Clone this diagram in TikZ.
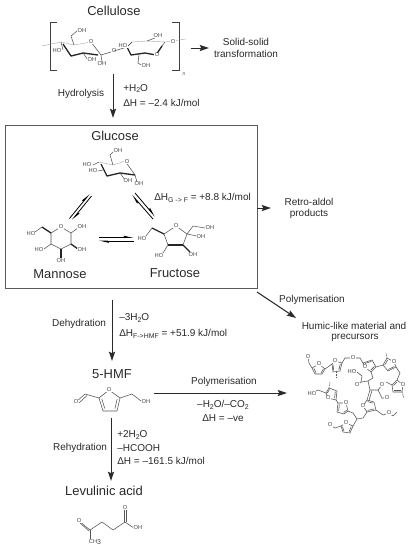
\documentclass[tikz,border=0pt]{standalone}
\usepackage{fontspec}
\setmainfont{Liberation Sans}
\usetikzlibrary{arrows.meta,calc}
\newcounter{atomc}
\newcommand{\lowr}[1]{\raisebox{-0.35ex}{\fontsize{5.2}{6}\selectfont #1}}
\newcommand{\atm}[2]{\stepcounter{atomc}\node[atomlbl] (atm\theatomc) at (#1) {#2};}
\newcommand{\furan}[5]{%
  \draw[bond] (#1) -- (#2) -- (#3) -- (#4) -- (#5) -- cycle;
  \coordinate (fc) at ($(#1)!0.55!($(#3)!0.5!(#4)$)$);
  \draw[bond] ($(#2)!0.27!(fc)$) -- ($(#3)!0.27!(fc)$);
  \draw[bond] ($(#4)!0.27!(fc)$) -- ($(#5)!0.27!(fc)$);
}
\definecolor{bondgray}{HTML}{555555}
\definecolor{inkgray}{HTML}{2A2A2A}
\tikzset{
  arr/.style={line width=0.75pt,draw=inkgray,-{Stealth[length=7pt,width=4.6pt,inset=1.2pt]}},
  harp/.style={line width=0.6pt,-{Stealth[harpoon,length=6pt,width=2.6pt,inset=0.6pt]}},
  lbl/.style={font=\fontsize{7.5}{9}\selectfont,inner sep=0pt,text=inkgray},
  lleft/.style={lbl,anchor=west},
  ttl/.style={font=\fontsize{9.7}{11}\selectfont,inner sep=0pt,text=inkgray},
  atomlbl/.style={font=\fontsize{4.3}{5}\selectfont,inner sep=0.25pt,fill=white,text=bondgray!80!black},
  bond/.style={line width=0.42pt,draw=bondgray,line join=round},
  lbond/.style={line width=0.3pt,draw=gray!70},
  hbond/.style={line width=1pt,draw=black!85,line join=round},
  bracket/.style={line width=0.6pt,draw=black!75},
  framebox/.style={draw=black!65,line width=0.7pt,minimum width=252pt*0.75,minimum height=163pt*0.75,inner sep=0pt}
}
\begin{document}
\begin{tikzpicture}[x=0.75pt,y=-0.75pt]
\useasboundingbox (0,0) rectangle (413,550);
\fill[white] (0,0) rectangle (413,550);

% ---------- titles
\node[ttl] (tcell) at (114,11) {Cellulose};
\node[ttl] (tgluc) at (115,136) {Glucose};
\node[ttl] (tmann) at (60,274) {Mannose};
\node[ttl] (tfruc) at (175,273) {Fructose};
\node[ttl] (thmf) at (112,374) {5-HMF};
\node[ttl] (tlev) at (104,491) {Levulinic acid};

% ---------- frame
\node[framebox] (frame) at (131,206.5) {};

% ---------- connector ends
\coordinate (cR) at (191,48); \coordinate (sol) at (209,48);
\coordinate (hT) at (113,74); \coordinate (hB) at (113,118);
\coordinate (rA) at (257,208); \coordinate (rB) at (271,208);
\coordinate (pA) at (257,292); \coordinate (pB) at (296,318);
\coordinate (dT) at (112,300); \coordinate (dB) at (112,361);
\coordinate (mT) at (111,418); \coordinate (mB) at (111,481);
\coordinate (hA) at (154,393); \coordinate (hC) at (287,393);
\draw[arr] (cR) -- (sol);
\draw[arr] (hT) -- (hB);
\draw[arr] (rA) -- (rB);
\draw[arr] (pA) -- (pB);
\draw[arr] (dT) -- (dB);
\draw[arr] (mT) -- (mB);
\draw[arr] (hA) -- (hC);

% ---------- equilibrium arrows
\coordinate (e1a) at (69.5,218.5); \coordinate (e1b) at (89.5,194);
\coordinate (e2a) at (91.5,196); \coordinate (e2b) at (72,220);
\coordinate (e3a) at (153,219); \coordinate (e3b) at (132,195);
\coordinate (e4a) at (135,193); \coordinate (e4b) at (155,216.5);
\coordinate (e5a) at (99,237.5); \coordinate (e5b) at (133.5,237.5);
\coordinate (e6a) at (133.5,241); \coordinate (e6b) at (99,241);
\draw[harp] (e1a) -- (e1b);
\draw[harp] (e2a) -- (e2b);
\draw[harp] (e3a) -- (e3b);
\draw[harp] (e4a) -- (e4b);
\draw[harp] (e5a) -- (e5b);
\draw[harp] (e6a) -- (e6b);

% ---------- labels
\node[lbl] (lsol1) at (246,42) {Solid-solid};
\node[lbl] (lsol2) at (246,53.5) {transformation};
\node[lbl] (lhyd) at (81,93.5) {Hydrolysis};
\node[lleft] (lw1) at (123,88.5) {+H\lowr{2}O};
\node[lleft] (lw2) at (123,103) {ΔH = –2.4 kJ/mol};
\node[lleft] (lgf) at (154,198) {ΔH\lowr{G -> F} = +8.8 kJ/mol};
\node[lbl] (lret1) at (309,202) {Retro-aldol};
\node[lbl] (lret2) at (309,214) {products};
\node[lbl] (lpol1) at (312,300) {Polymerisation};
\node[lbl] (lhum1) at (354,326) {Humic-like material and};
\node[lbl] (lhum2) at (355,338) {precursors};
\node[lbl] (ldeh) at (79,324) {Dehydration};
\node[lleft] (l3w) at (119,318) {–3H\lowr{2}O};
\node[lleft] (l3h) at (119,334) {ΔH\lowr{F->HMF} = +51.9 kJ/mol};
\node[lbl] (lpol2) at (224,382) {Polymerisation};
\node[lbl] (lco) at (223,405) {–H\lowr{2}O/–CO\lowr{2}};
\node[lbl] (lve) at (223,418) {ΔH = –ve};
\node[lbl] (lreh) at (80,448) {Rehydration};
\node[lleft] (lr1) at (117,435) {+2H\lowr{2}O};
\node[lleft] (lr2) at (117,448) {–HCOOH};
\node[lleft] (lr3) at (117,461) {ΔH = –161.5 kJ/mol};

% ---------- cellulose
\draw[bracket] (57,22) -- (50,22) -- (50,70) -- (57,70);
\draw[bracket] (172,22) -- (179,22) -- (179,70) -- (172,70);
\node[font=\fontsize{3.8}{4}\selectfont\itshape,inner sep=0pt,text=bondgray] (nn) at (184,74) {n};
\draw[lbond] (42,46) -- (61,42) -- (74,45) -- (91,42);
\draw[bond] (74,45) -- (71,36) -- (77,31);
\draw[hbond] (63,44) -- (71,56) -- (83,53) -- (98,55);
\draw[bond] (91,42) -- (101,55) -- (114,51);
\draw[bond] (61,42) -- (63,50);
\draw[bond] (83,53) -- (88,60); \draw[bond] (101,55) -- (102,62);
\atm{82,31}{OH}\atm{91,42}{O}\atm{57,51}{HO}\atm{92,60}{OH}\atm{102,64}{OH}\atm{114,51}{O}
\draw[lbond] (132,42) -- (147,41) -- (165,42) -- (172,41) -- (186,39);
\draw[bond] (114,51) -- (127,47) -- (132,42);
\draw[hbond] (127,47) -- (131,55) -- (145,53) -- (156,55);
\draw[hbond] (156,55) -- (162,46);
\draw[bond] (162,46) -- (165,42);
\draw[bond] (147,41) -- (155,38); \draw[bond] (132,42) -- (128,46);
\draw[bond] (139,54) -- (138,63) -- (143,66);
\atm{158,36}{OH}\atm{123,46}{HO}\atm{157,55}{O}\atm{146,66}{OH}\atm{173,42}{O}

% ---------- glucose
\draw[lbond] (99,162) -- (113,165) -- (125,161);
\draw[bond] (125,161) -- (135,175);
\draw[hbond] (101,164) -- (107,176) -- (120,173) -- (135,175);
\draw[bond] (113,165) -- (110,155) -- (114,151);
\draw[bond] (99,162) -- (93,165); \draw[bond] (103,170) -- (98,171);
\draw[bond] (120,173) -- (125,180); \draw[bond] (135,175) -- (137,182);
\atm{118,151}{OH}\atm{127,162}{O}\atm{87,165}{HO}\atm{93,171}{HO}\atm{128,181}{OH}\atm{139,184}{OH}

% ---------- mannose
\draw[bond] (51,233) -- (61,227) -- (71,233) -- (71,244) -- (61,249) -- (51,244) -- cycle;
\draw[bond] (42,227) -- (35,232);
\draw[bond] (71,233) -- (78,228);
\draw[bond] (51,244) -- (44,249);
\draw[hbond] (71,244) -- (78,249);
\draw[hbond] (61,249) -- (61,258);
\draw[hbond] (51,233) -- (42,227);
\atm{61,227}{O}\atm{31,234}{HO}\atm{82,227}{OH}\atm{82,250}{OH}\atm{61,261}{OH}\atm{39,250}{HO}

% ---------- fructose
\draw[bond] (176,226) -- (187,234) -- (183,245) -- (168,245) -- (164,234) -- cycle;
\draw[hbond] (168,245) -- (183,245);
\draw[hbond] (164,234) -- (152,228);
\draw[bond] (152,228) -- (146,236);
\draw[bond] (187,234) -- (193,226) -- (205,228);
\draw[bond] (187,234) -- (197,236);
\draw[bond] (168,245) -- (163,253);
\draw[hbond] (183,245) -- (190,252);
\atm{176,226}{O}\atm{142,239}{HO}\atm{210,228}{OH}\atm{201,237}{OH}\atm{159,256}{HO}\atm{193,255}{OH}

% ---------- 5-HMF
\furan{109,390}{120,398}{117,411}{103,411}{99,398}
\draw[bond] (99,398) -- (85,394);
\draw[bond] (85,394) -- (76,402);
\draw[bond] (87,395.5) -- (79,403);
\draw[bond] (120,398) -- (132,394) -- (141,401);
\atm{76,402}{O}\atm{109,390}{O}\atm{146,402}{OH}

% ---------- levulinic acid
\draw[bond] (79,521) -- (90,530); \draw[bond] (80,523) -- (89,531);
\draw[bond] (90,530) -- (90,539);
\draw[bond] (90,530) -- (102,522) -- (113,530) -- (125,522) -- (134,528);
\draw[bond] (124,522) -- (124,510); \draw[bond] (126,522) -- (126,510);
\atm{79,521}{O}\atm{95,542}{CH\lowr{3}}\atm{125,508}{O}\atm{138,528}{OH}

% ---------- polymer
\furan{319,364}{325,369}{322,374}{315,374}{312,368}
\draw[bond] (312,368) -- (309,363) -- (308,357);
\draw[bond] (325,369) -- (332,364);
\furan{335,361}{342,363}{340,371}{333,372}{332,364}
\draw[bond,dashed,dash pattern=on 1pt off 0.7pt] (336,372) -- (336,378);
\draw[bond] (342,363) -- (345,358) -- (353,358) -- (360,358) -- (363,363);
\furan{365,367}{371,372}{376,367}{372,360}{363,363}
\draw[bond] (376,367) -- (383,365);
\furan{394,362}{396,367}{388,371}{383,365}{387,358}
\draw[bond,dashed,dash pattern=on 1pt off 0.7pt] (387,358) -- (386,353);
\draw[bond] (396,367) -- (400,373) -- (397,380);
\furan{403,385}{402,392}{393,392}{392,385}{397,380}
\draw[bond,dashed,dash pattern=on 1pt off 0.7pt] (402,392) -- (404,398);
\draw[bond] (392,385) -- (386,382);
\draw[bond] (371,372) -- (373,378) -- (368,381) -- (370,390);
\draw[bond] (357,372) -- (362,376) -- (361,382) -- (357,385);
\draw[bond] (361,382) -- (368,381);
\draw[bond] (370,390) -- (378,390) -- (382,385);
\draw[bond] (378,390) -- (382,398) -- (387,398);
\draw[bond] (370,390) -- (367,400);
\draw[bond] (372,390.5) -- (369,400.5);
\furan{363,406}{367,412}{376,410}{374,402}{367,400}
\draw[bond] (376,410) -- (383,415) -- (389,413) -- (393,416) -- (397,412);
\draw[bond] (367,412) -- (363,418) -- (357,419) -- (353,413) -- (348,411);
\furan{346,403}{348,411}{344,414}{337,412}{338,403}
\draw[bond] (338,403) -- (336,400);
\furan{328,398}{336,400}{337,391}{329,388}{326,393}
\draw[bond] (316,391) -- (318,390) -- (326,393);
\draw[bond,dashed,dash pattern=on 1pt off 0.7pt] (329,388) -- (330,382);
\draw[bond] (357,419) -- (353,426);
\furan{346,423}{353,426}{350,433}{343,432}{341,426}
\draw[bond] (341,426) -- (335,428) -- (330,425);
\atm{308,357}{O}\atm{319,364}{O}\atm{335,361}{O}\atm{353,358}{O}\atm{365,367}{O}\atm{394,362}{O}
\atm{403,385}{O}\atm{352,372}{HO}\atm{357,385}{O}\atm{382,385}{O}\atm{387,398}{O}\atm{363,406}{O}
\atm{389,413}{O}\atm{346,403}{O}\atm{328,398}{O}\atm{312,394}{HO}\atm{346,423}{O}\atm{330,425}{O}
\end{tikzpicture}
\end{document}
